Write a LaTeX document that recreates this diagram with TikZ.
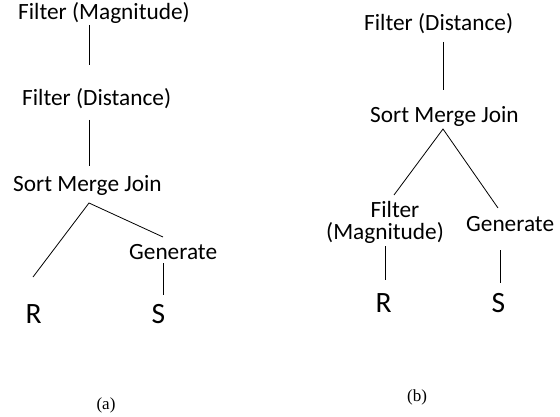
\documentclass[tikz,border=0pt]{standalone}
\usepackage{fontspec}
\setmainfont{Carlito}
\newfontfamily\capfont{Liberation Serif}
\begin{document}
\begin{tikzpicture}[x=1pt,y=-1pt,
  lbl/.style={inner sep=0pt,anchor=base west,font=\fontsize{23.3}{28}\selectfont},
  rel/.style={inner sep=0pt,anchor=base west,font=\fontsize{29.5}{34}\selectfont},
  captext/.style={inner sep=0pt,anchor=base,font=\capfont\fontsize{17}{20}\selectfont},
  conn/.style={draw,line width=0.8pt}]
\useasboundingbox (0,0) rectangle (560,417);
% (a)
\node[lbl] (fmA) at (18,20) {Filter (Magnitude)};
\node[lbl] (fdA) at (22,106) {Filter (Distance)};
\node[lbl] (smA) at (13,192) {Sort Merge Join};
\node[lbl] (geA) at (129,259) {Generate};
\node[rel] (rA) at (25.5,323) {R};
\node[rel] (sA) at (151.5,323) {S};
\node[captext] (capA) at (106,409) {(a)};
\coordinate (a1) at (89,25); \coordinate (a2) at (89,65);
\coordinate (a3) at (89,120); \coordinate (a4) at (89,166);
\coordinate (a5) at (89,203); \coordinate (a6) at (33,277); \coordinate (a7) at (163,237);
\coordinate (a8) at (163,263); \coordinate (a9) at (163,295);
\draw[conn] (a1) -- (a2);
\draw[conn] (a3) -- (a4);
\draw[conn] (a6) -- (a5) -- (a7);
\draw[conn] (a8) -- (a9);
% (b)
\node[lbl] (fdB) at (364,31) {Filter (Distance)};
\node[lbl] (smB) at (370,123) {Sort Merge Join};
\node[lbl] (fiB) at (370.5,218) {Filter};
\node[lbl] (maB) at (326,240) {(Magnitude)};
\node[lbl] (geB) at (466,232) {Generate};
\node[rel] (rB) at (375.5,312.5) {R};
\node[rel] (sB) at (491.5,312.5) {S};
\node[captext] (capB) at (417,401) {(b)};
\coordinate (b1) at (443,42); \coordinate (b2) at (443,90);
\coordinate (b3) at (443,129); \coordinate (b4) at (394,195); \coordinate (b5) at (498,208);
\coordinate (b6) at (385,246); \coordinate (b7) at (385,280);
\coordinate (b8) at (500.5,250); \coordinate (b9) at (500.5,283);
\draw[conn] (b1) -- (b2);
\draw[conn] (b4) -- (b3) -- (b5);
\draw[conn] (b6) -- (b7);
\draw[conn] (b8) -- (b9);
\end{tikzpicture}
\end{document}
